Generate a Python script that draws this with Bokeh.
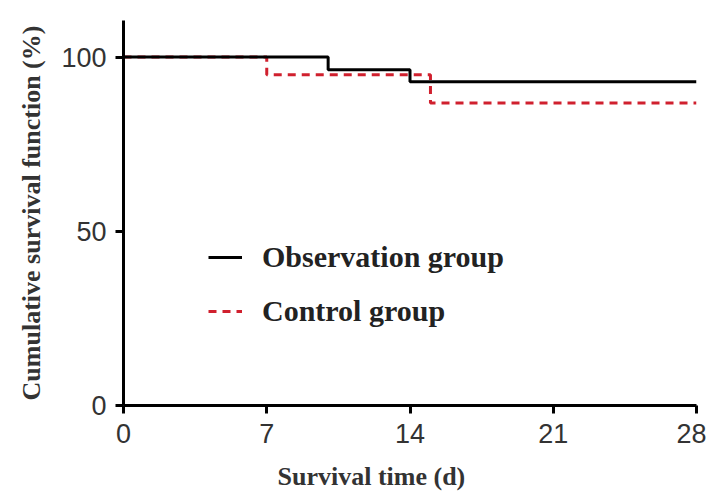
from bokeh.plotting import figure
from bokeh.models import Range1d, FixedTicker, Legend, LegendItem, Title
from bokeh.embed import file_html
from bokeh.resources import INLINE

# Data
days_obs = [0, 10, 14, 28]
surv_obs = [100, 96.4, 92.9, 92.9]
days_ctrl = [0, 7, 15, 28]
surv_ctrl = [100, 94.9, 86.8, 86.8]
x_ticks = [0, 7, 14, 21, 28]
y_ticks = [0, 50, 100]
series_names = ["Observation group", "Control group"]
x_title = "Survival time (d)"
y_title = "Cumulative survival function (%)"

p = figure(width=706, height=499, output_backend="svg", toolbar_location=None,
           x_range=Range1d(0, 28), y_range=Range1d(0, 110.5),
           min_border_left=123, min_border_right=10, min_border_top=20,
           min_border_bottom=94)
p.outline_line_color = None
p.grid.visible = False
p.background_fill_color = "white"

r_ctrl = p.step(days_ctrl, surv_ctrl, mode="after", line_color="#d0202e",
                line_width=3, line_dash="8 6")
r_obs = p.step(days_obs, surv_obs, mode="after", line_color="black", line_width=3)

for ax in (p.xaxis[0], p.yaxis[0]):
    ax.axis_line_width = 3
    ax.axis_line_color = "black"
    ax.major_tick_line_width = 3
    ax.major_tick_line_color = "black"
    ax.major_tick_out = 8
    ax.major_tick_in = 0
    ax.minor_tick_line_color = None
    ax.major_label_text_font = "Liberation Sans Narrow, Liberation Sans"
    ax.major_label_text_font_size = "27px"
    ax.major_label_text_color = "#333333"

p.xaxis[0].ticker = FixedTicker(ticks=x_ticks)
p.yaxis[0].ticker = FixedTicker(ticks=y_ticks)
p.xaxis[0].major_label_standoff = 10
p.yaxis[0].major_label_standoff = 9

p.yaxis[0].axis_label = y_title
p.yaxis[0].axis_label_text_font = "Liberation Serif"
p.yaxis[0].axis_label_text_font_style = "bold"
p.yaxis[0].axis_label_text_font_size = "26px"
p.yaxis[0].axis_label_text_color = "#333333"
p.yaxis[0].axis_label_standoff = 12

# small blank spacer, then the x-axis title placed left of centre as in the reference
spacer = Title(text=" ", standoff=0, text_font_size="11px")
p.add_layout(spacer, "below")
xt = Title(text=x_title, align="left", offset=154, standoff=0,
           text_font="Liberation Serif", text_font_style="bold",
           text_font_size="26px", text_color="#333333")
p.add_layout(xt, "below")

legend = Legend(items=[LegendItem(label=series_names[0], renderers=[r_obs]),
                       LegendItem(label=series_names[1], renderers=[r_ctrl])],
                location=(85, 74), orientation="vertical", padding=0, margin=0,
                spacing=14, glyph_width=34, glyph_height=40, label_height=40,
                label_standoff=20, label_text_font="Liberation Serif",
                label_text_font_style="bold", label_text_font_size="30px",
                label_text_color="#222222", border_line_color=None,
                background_fill_alpha=0)
p.add_layout(legend)

open("out.html", "w").write(file_html(p, INLINE))
